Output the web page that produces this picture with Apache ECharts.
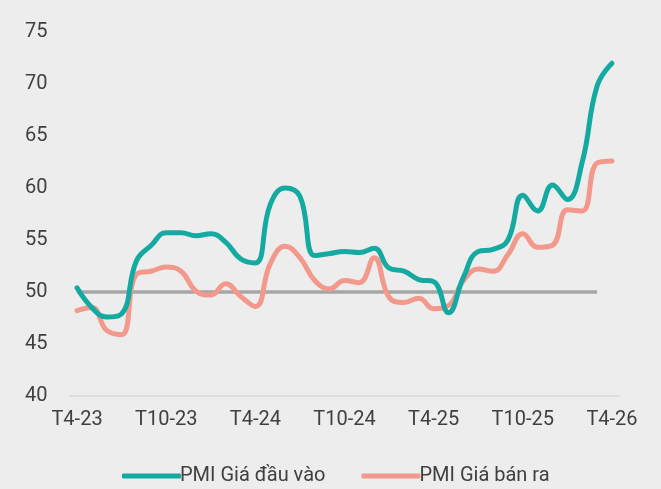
<!DOCTYPE html>
<html>
<head>
<meta charset="utf-8">
<script src="https://cdn.jsdelivr.net/npm/echarts@6/dist/echarts.min.js"></script>
<style>
html,body{margin:0;padding:0;background:#EDEDED;}
#chart{width:661px;height:489px;}
</style>
</head>
<body>
<div id="chart"></div>
<script>
const categories = ["T4-23","T5-23","T6-23","T7-23","T8-23","T9-23","T10-23","T11-23","T12-23",
  "T1-24","T2-24","T3-24","T4-24","T5-24","T6-24","T7-24","T8-24","T9-24","T10-24","T11-24","T12-24",
  "T1-25","T2-25","T3-25","T4-25","T5-25","T6-25","T7-25","T8-25","T9-25","T10-25","T11-25","T12-25",
  "T1-26","T2-26","T3-26","T4-26"];
const inputPrice = [50.4, 48.5, 47.6, 47.9, 53.0, 54.5, 55.7, 55.7, 55.4, 55.6, 54.8, 53.2, 52.8, 58.4, 60.0, 59.2, 53.5, 53.7, 53.9, 53.8, 54.2, 52.3, 52.0, 51.2, 51.0, 48.0, 51.4, 53.9, 54.1, 55.0, 59.3, 57.8, 60.3, 58.9, 62.5, 69.8, 72.0];
const outputPrice = [48.2, 48.5, 46.3, 45.9, 51.7, 52.0, 52.4, 52.0, 50.1, 49.7, 50.8, 49.6, 48.6, 52.7, 54.4, 53.3, 51.1, 50.3, 51.1, 50.9, 53.3, 49.5, 49.0, 49.4, 48.4, 48.7, 51.1, 52.2, 52.0, 53.6, 55.6, 54.3, 54.5, 57.9, 57.8, 62.4, 62.6];
const threshold = [50,50,50,50,50,50,50,50,50,50,50,50,50,50,50,50,50,50,50,50,50,50,50,50,50,50,50,50,50,50,50,50,50,50,50,50,null];
const seriesNames = ["PMI Giá đầu vào", "PMI Giá bán ra"];
const yTicks = {min: 40, max: 75, interval: 5};

const chart = echarts.init(document.getElementById('chart'));
const font = 'Roboto';
chart.setOption({
  backgroundColor: '#EDEDED',
  animation: false,
  grid: {left: 69.6, right: 41.6, top: 32, bottom: 93, containLabel: false},
  legend: {
    data: seriesNames,
    left: 117, top: 461,
    itemWidth: 59, itemHeight: 5, itemGap: 36,
    icon: 'roundRect',
    textStyle: {fontFamily: font, fontSize: 20, color: '#404040', padding: [0,0,0,-6]}
  },
  xAxis: {
    type: 'category',
    data: categories,
    boundaryGap: true,
    axisLine: {show: true, lineStyle: {color: '#D9D9D9', width: 1.5}},
    axisTick: {show: false},
    axisLabel: {interval: 5, fontFamily: font, fontSize: 20, color: '#404040', margin: 14}
  },
  yAxis: {
    type: 'value',
    min: yTicks.min, max: yTicks.max, interval: yTicks.interval,
    axisLine: {show: false},
    axisTick: {show: false},
    splitLine: {show: false},
    axisLabel: {fontFamily: font, fontSize: 20, color: '#404040', margin: 22}
  },
  series: [
    {name: 'ref', type: 'line', data: threshold, symbol: 'none', silent: true,
     lineStyle: {color: '#A6A6A6', width: 3.5}, z: 1},
    {name: seriesNames[1], type: 'line', data: outputPrice, smooth: 0.45, symbol: 'none',
     itemStyle: {color: '#F2998C'}, lineStyle: {color: '#F2998C', width: 5, cap: 'round'}, z: 2},
    {name: seriesNames[0], type: 'line', data: inputPrice, smooth: 0.45, symbol: 'none',
     itemStyle: {color: '#14AAA2'}, lineStyle: {color: '#14AAA2', width: 5, cap: 'round'}, z: 3}
  ]
});
</script>
</body>
</html>
